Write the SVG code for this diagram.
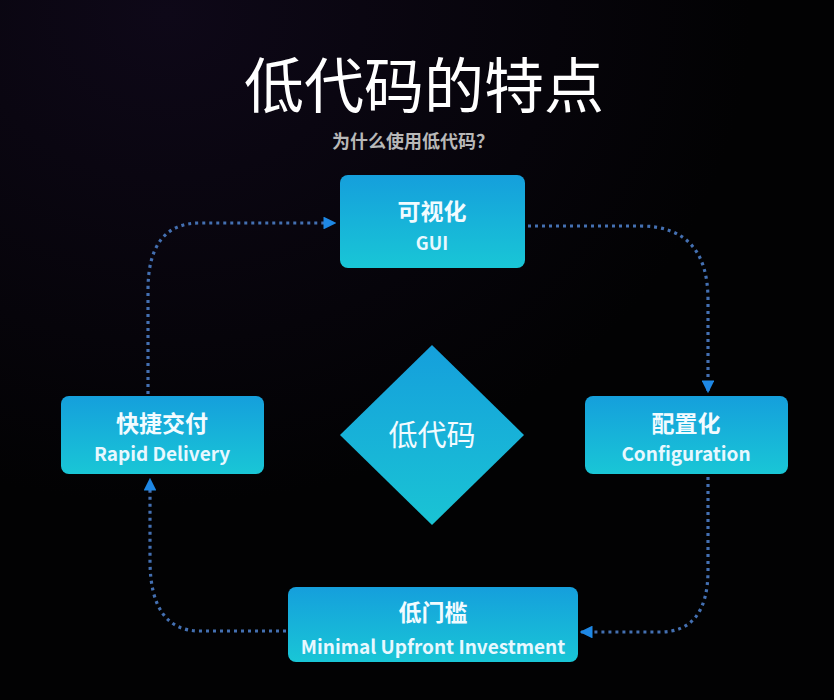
<svg xmlns="http://www.w3.org/2000/svg" width="834" height="700" viewBox="0 0 834 700">
<defs>
<linearGradient id="box" x1="0" y1="0" x2="0" y2="1">
<stop offset="0" stop-color="#159fdc"/>
<stop offset="1" stop-color="#19c6d6"/>
</linearGradient>
<linearGradient id="dia" x1="0" y1="0" x2="0" y2="1">
<stop offset="0" stop-color="#159fdc"/>
<stop offset="1" stop-color="#1ac4d4"/>
</linearGradient>
<radialGradient id="bg" cx="0.2" cy="0.02" r="0.7">
<stop offset="0" stop-color="#0e0818"/>
<stop offset="1" stop-color="#020203"/>
</radialGradient>
<marker id="arr" viewBox="0 0 10 10" refX="9" refY="5" markerWidth="4" markerHeight="4" orient="auto" markerUnits="strokeWidth">
<path d="M0,0 L10,5 L0,10 z" fill="#1e88e5"/>
</marker>
</defs>
<style>
.box{fill:url(#box)}
.cn{font-family:"Noto Sans CJK SC",sans-serif;font-weight:700;fill:#f2fbff;text-anchor:middle}
.en{font-family:"Noto Sans CJK SC","Open Sans",sans-serif;font-weight:700;fill:#e8f8ff;text-anchor:middle}
.con{fill:none;stroke:#4470b2;stroke-width:3.2;stroke-dasharray:3 4}
</style>
<rect width="834" height="700" fill="url(#bg)"/>
<g id="title">
<text x="424" y="108" font-family="Noto Sans CJK SC,sans-serif" font-size="60" fill="#ffffff" text-anchor="middle">低代码的特点</text>
<text x="413" y="148" font-family="Noto Sans CJK SC,sans-serif" font-size="18" font-weight="700" fill="#b8b8b8" text-anchor="middle">为什么使用低代码？</text>
</g>
<g id="connectors">
<path class="con" d="M148,394 L148,290 Q148,223 200,223 L335,223" marker-end="url(#arr)"/>
<path class="con" d="M528,226 L640,226 Q708,226 708,300 L708,392" marker-end="url(#arr)"/>
<path class="con" d="M708,477 L708,570 Q708,632 660,632 L581,632" marker-end="url(#arr)"/>
<path class="con" d="M286,631 L200,631 Q150,631 150,560 L150,479" marker-end="url(#arr)"/>
</g>
<g id="gui">
<rect class="box" x="340" y="175" width="185" height="93" rx="8"/>
<text class="cn" x="432" y="220" font-size="23">可视化</text>
<text class="en" x="432" y="250" font-size="18">GUI</text>
</g>
<g id="rapid">
<rect class="box" x="61" y="396" width="203" height="78" rx="8"/>
<text class="cn" x="162" y="432" font-size="23">快捷交付</text>
<text class="en" x="162" y="461" font-size="19">Rapid Delivery</text>
</g>
<g id="config">
<rect class="box" x="585" y="396" width="203" height="78" rx="8"/>
<text class="cn" x="686" y="432" font-size="23">配置化</text>
<text class="en" x="686" y="461" font-size="19">Configuration</text>
</g>
<g id="lowbar">
<rect class="box" x="288" y="587" width="290" height="75" rx="8"/>
<text class="cn" x="433" y="621" font-size="23">低门槛</text>
<text class="en" x="433" y="654" font-size="19">Minimal Upfront Investment</text>
</g>
<g id="center">
<path d="M432,345 L524,435 L432,525 L340,435 Z" fill="url(#dia)"/>
<text x="432" y="446" font-family="Noto Sans CJK SC,sans-serif" font-size="29" fill="#f2fbff" text-anchor="middle">低代码</text>
</g>
</svg>
